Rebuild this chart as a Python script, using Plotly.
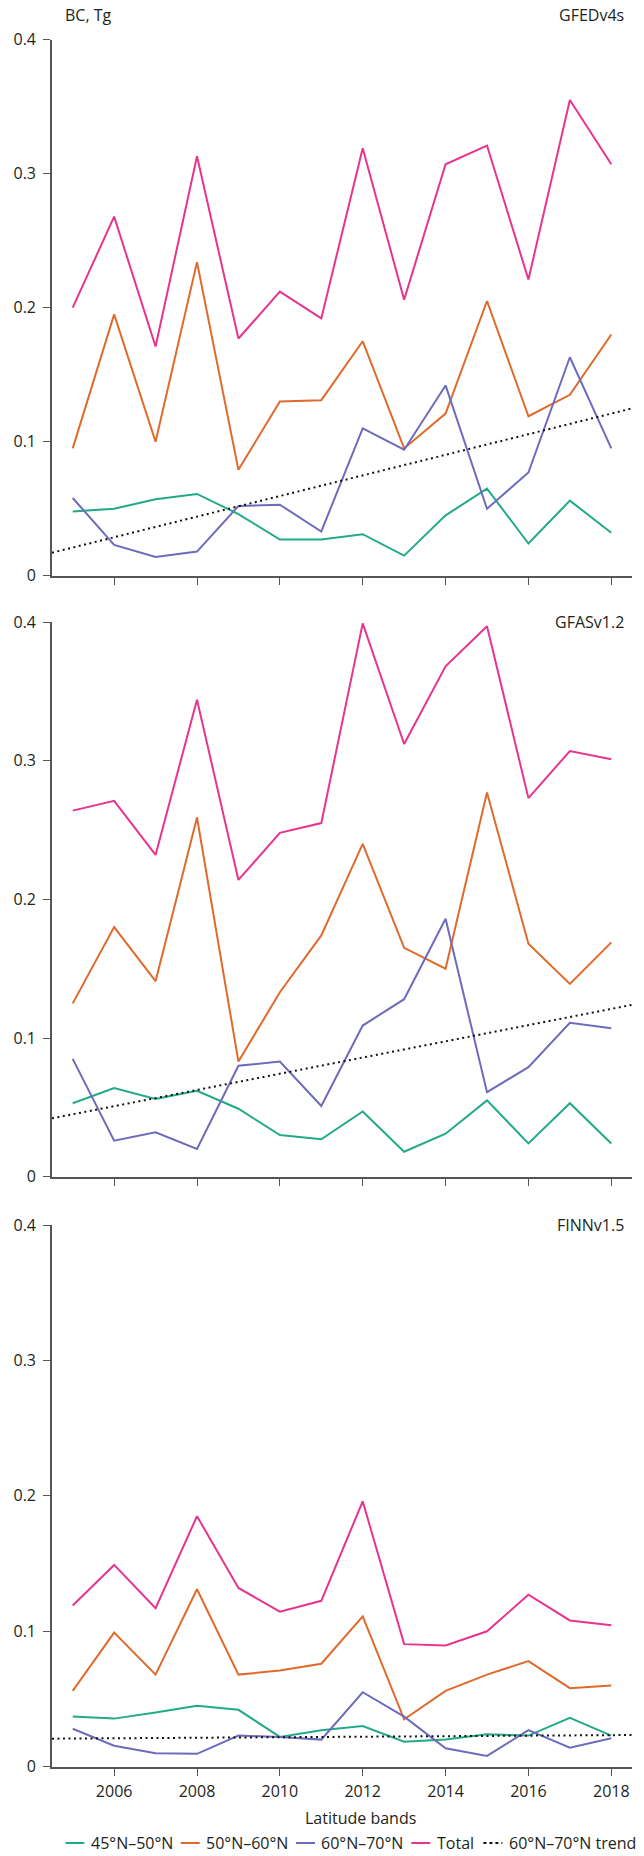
import plotly.graph_objects as go

# Black carbon emissions (Tg) by latitude band, 2005-2018, for three fire inventories
years = list(range(2005, 2019))

# GFEDv4s
gfed_45_50 = [0.048, 0.050, 0.057, 0.061, 0.046, 0.027, 0.027, 0.031, 0.015, 0.045, 0.065, 0.024, 0.056, 0.032]
gfed_50_60 = [0.095, 0.195, 0.100, 0.234, 0.079, 0.130, 0.131, 0.175, 0.095, 0.121, 0.205, 0.119, 0.135, 0.180]
gfed_60_70 = [0.058, 0.023, 0.014, 0.018, 0.052, 0.053, 0.033, 0.110, 0.094, 0.142, 0.050, 0.077, 0.163, 0.095]
gfed_total = [0.200, 0.268, 0.171, 0.313, 0.177, 0.212, 0.192, 0.319, 0.206, 0.307, 0.321, 0.221, 0.355, 0.307]
gfed_trend = [0.021, 0.121]  # 60N-70N linear trend at 2005 and 2018

# GFASv1.2
gfas_45_50 = [0.053, 0.064, 0.056, 0.062, 0.049, 0.030, 0.027, 0.047, 0.018, 0.031, 0.055, 0.024, 0.053, 0.024]
gfas_50_60 = [0.125, 0.180, 0.141, 0.259, 0.083, 0.133, 0.174, 0.240, 0.165, 0.150, 0.277, 0.168, 0.139, 0.169]
gfas_60_70 = [0.085, 0.026, 0.032, 0.020, 0.080, 0.083, 0.051, 0.109, 0.128, 0.186, 0.061, 0.079, 0.111, 0.107]
gfas_total = [0.264, 0.271, 0.232, 0.344, 0.214, 0.248, 0.255, 0.399, 0.312, 0.368, 0.397, 0.273, 0.307, 0.301]
gfas_trend = [0.045, 0.121]

# FINNv1.5
finn_45_50 = [0.037, 0.0355, 0.040, 0.045, 0.042, 0.022, 0.027, 0.030, 0.0185, 0.020, 0.024, 0.023, 0.036, 0.023]
finn_50_60 = [0.056, 0.099, 0.068, 0.131, 0.068, 0.071, 0.076, 0.111, 0.035, 0.056, 0.068, 0.078, 0.058, 0.060]
finn_60_70 = [0.028, 0.0155, 0.010, 0.0095, 0.023, 0.022, 0.020, 0.055, 0.037, 0.0136, 0.008, 0.027, 0.014, 0.021]
finn_total = [0.119, 0.149, 0.117, 0.185, 0.132, 0.1145, 0.1225, 0.196, 0.0905, 0.0895, 0.100, 0.127, 0.108, 0.1045]
finn_trend = [0.0208, 0.0233]

panel_names = ["GFEDv4s", "GFASv1.2", "FINNv1.5"]
band_names = ["45°N–50°N", "50°N–60°N", "60°N–70°N", "Total"]
trend_name = "60°N–70°N trend"
x_ticks = [2006, 2008, 2010, 2012, 2014, 2016, 2018]
y_ticks = [0, 0.1, 0.2, 0.3, 0.4]

panels = [
    (gfed_45_50, gfed_50_60, gfed_60_70, gfed_total, gfed_trend),
    (gfas_45_50, gfas_50_60, gfas_60_70, gfas_total, gfas_trend),
    (finn_45_50, finn_50_60, finn_60_70, finn_total, finn_trend),
]

band_colors = ["#22aa88", "#e06a2b", "#6e6bbd", "#e8338f"]
trend_color = "#111111"
axis_color = "#555555"
text_color = "#231f20"
FONT = "Open Sans"

W, H = 644, 1856
ML, MR = 52, 12
x_range = [2004.5, 2018.5]
# vertical pixel extents (top of 0.4, bottom at 0) of each panel
panel_px = [(39.7, 575.7), (622.0, 1176.7), (1225.0, 1766.7)]


def py(px):
    return (H - px) / H


def px_to_paper_x(px):
    return px / W


fig = go.Figure()

for i, (b1, b2, b3, tot, trend) in enumerate(panels):
    n = i + 1
    xa = "x" if n == 1 else f"x{n}"
    ya = "y" if n == 1 else f"y{n}"
    for name, vals, col in zip(band_names, [b1, b2, b3, tot], band_colors):
        fig.add_trace(go.Scatter(
            x=years, y=vals, mode="lines", name=name,
            line=dict(color=col, width=2), xaxis=xa, yaxis=ya,
            showlegend=False,
        ))
    # extend the fitted trend line across the full axis range
    slope = (trend[1] - trend[0]) / (years[-1] - years[0])
    tx = [x_range[0], x_range[1]]
    ty = [trend[0] + slope * (x - years[0]) for x in tx]
    fig.add_trace(go.Scatter(
        x=tx, y=ty, mode="lines", name=trend_name,
        line=dict(color=trend_color, width=2, dash="2px,3.5px"),
        xaxis=xa, yaxis=ya, showlegend=False,
    ))

layout = dict(
    width=W, height=H,
    margin=dict(l=ML, r=MR, t=0, b=0, autoexpand=False),
    paper_bgcolor="white", plot_bgcolor="white",
    font=dict(family=FONT, size=16, color=text_color),
    showlegend=False,
)

axis_common = dict(
    showgrid=False, zeroline=False, showline=True,
    linecolor=axis_color, linewidth=1.6,
    ticks="outside", ticklen=7, tickwidth=1.4, tickcolor=axis_color,
    tickfont=dict(family=FONT, size=16, color=text_color),
)

for i, (top, bottom) in enumerate(panel_px):
    n = i + 1
    xk = "xaxis" if n == 1 else f"xaxis{n}"
    yk = "yaxis" if n == 1 else f"yaxis{n}"
    ya = "y" if n == 1 else f"y{n}"
    xa = "x" if n == 1 else f"x{n}"
    layout[xk] = dict(
        axis_common, domain=[0, 1], range=x_range, anchor=ya,
        tickmode="array", tickvals=x_ticks,
        showticklabels=(n == 3), ticklabelstandoff=2,
    )
    layout[yk] = dict(
        axis_common, domain=[py(bottom), py(top)], range=[0, 0.4], anchor=xa,
        tickmode="array", tickvals=y_ticks,
        ticktext=["0", "0.1", "0.2", "0.3", "0.4"], ticklabelstandoff=4,
    )

fig.update_layout(**layout)

annotations = [
    dict(text="BC, Tg", x=12 / W, xanchor="left", y=py(15), yanchor="middle"),
    dict(text=panel_names[0], x=637 / W, xanchor="right", y=py(15), yanchor="middle"),
    dict(text=panel_names[1], x=637 / W, xanchor="right", y=py(622), yanchor="middle"),
    dict(text=panel_names[2], x=637 / W, xanchor="right", y=py(1225), yanchor="middle"),
    dict(text="Latitude bands", x=342 / W, xanchor="center", y=py(1818), yanchor="middle"),
]

# Legend row along the bottom: sample line followed by its label
legend_y = py(1843)
legend_items = [
    (band_names[0], band_colors[0], "solid", 15, 21),
    (band_names[1], band_colors[1], "solid", 143, 21),
    (band_names[2], band_colors[2], "solid", 271, 21),
    (band_names[3], band_colors[3], "solid", 399, 21),
    (trend_name, trend_color, "dot", 479, 21),
]
for label, col, dash, x0, length in legend_items:
    fig.add_shape(
        type="line", xref="paper", yref="paper",
        x0=px_to_paper_x(x0), x1=px_to_paper_x(x0 + length),
        y0=legend_y, y1=legend_y,
        line=dict(color=col, width=2, dash=dash),
    )
    annotations.append(dict(
        text=label, x=px_to_paper_x(x0 + length + 5), xanchor="left",
        y=legend_y, yanchor="middle",
    ))

for a in annotations:
    fig.add_annotation(
        xref="paper", yref="paper", showarrow=False,
        font=dict(family=FONT, size=16, color=text_color), **a,
    )

fig.write_html("out.html")
